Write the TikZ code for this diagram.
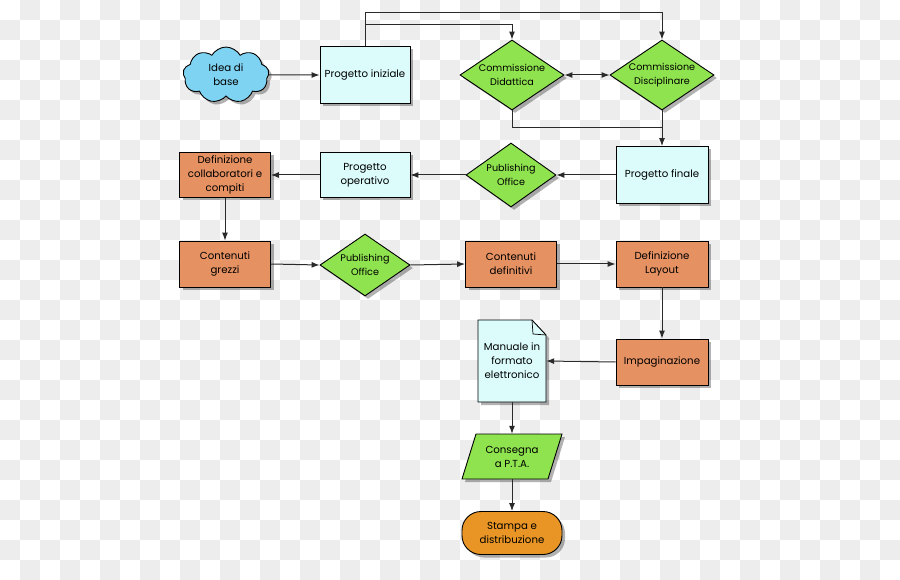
\documentclass[tikz,border=0pt]{standalone}
\usepackage{fontspec}
\setmainfont{Poppins}
\usetikzlibrary{shapes.geometric,shapes.symbols,shadows,arrows.meta}
\definecolor{cloudblue}{HTML}{7FD3F2}
\definecolor{lightcyan}{HTML}{DCFCFC}
\definecolor{limegreen}{HTML}{8EE34E}
\definecolor{salmon}{HTML}{E59162}
\definecolor{darkorange}{HTML}{E99526}
\definecolor{linegray}{HTML}{2A2A2A}
\definecolor{checkgray}{HTML}{EDEDED}
\begin{document}
\begin{tikzpicture}[x=1pt,y=-1pt,
  every node/.style={font=\fontsize{10.2}{14}\selectfont, align=center, inner sep=0pt},
  shad/.style={drop shadow={shadow xshift=3pt,shadow yshift=-3pt,opacity=0.3,fill=black}},
  outl/.style={draw=black, line width=0.9pt},
  boxc/.style={rectangle, outl, fill=lightcyan, shad},
  boxo/.style={rectangle, outl, fill=salmon, shad},
  dia/.style={diamond, outl, fill=limegreen, shad},
  txt/.style={font=\fontsize{9.6}{14}\selectfont},
  conn/.style={draw=linegray, line width=1pt, -{Latex[length=8pt,width=6pt]}},
  plain/.style={draw=linegray, line width=1pt}
]
\fill[white] (0,0) rectangle (900,580);
\foreach \i in {0,...,44}{
  \foreach \j in {0,...,28}{
    \pgfmathtruncatemacro{\parity}{mod(\i+\j,2)}
    \ifnum\parity=1 \fill[checkgray] (\i*20,\j*20) rectangle ++(20,20); \fi
  }
}
\useasboundingbox (0,0) rectangle (900,580);

% row 1
\node[cloud, cloud puffs=9, cloud puff arc=120, outl, fill=cloudblue, shad,
      minimum width=86pt, minimum height=50pt] (idea) at (226,75) {Idea di\\base};
\node[boxc, minimum width=90pt, minimum height=57pt] (pi) at (365,75) {Progetto iniziale};
\node[dia, minimum width=104pt, minimum height=70pt] (did) at (512,75) {};
\node[txt] (didT) at (did.center) {Commissione\\Didattica};
\node[dia, minimum width=104pt, minimum height=70pt] (disc) at (662,75) {};
\node[txt] (discT) at (disc.center) {Commissione\\Disciplinare};

% row 2
\node[boxc, minimum width=92pt, minimum height=57pt] (pf) at (662,175) {Progetto finale};
\node[dia, minimum width=90pt, minimum height=64pt] (po1) at (511,175) {};
\node[txt] (po1T) at (po1.center) {Publishing\\Office};
\node[boxc, minimum width=90pt, minimum height=45pt] (pop) at (365,175) {Progetto\\operativo};
\node[boxo, minimum width=91pt, minimum height=45pt] (defc) at (225,175) {Definizione\\collaboratori e\\compiti};

% row 3
\node[boxo, minimum width=91pt, minimum height=46pt] (cg) at (225,264) {Contenuti\\grezzi};
\node[dia, minimum width=90pt, minimum height=62pt] (po2) at (365,265) {};
\node[txt] (po2T) at (po2.center) {Publishing\\Office};
\node[boxo, minimum width=91pt, minimum height=46pt] (cdef) at (511,264) {Contenuti\\definitivi};
\node[boxo, minimum width=92pt, minimum height=46pt] (dl) at (662,264) {Definizione\\Layout};

% row 4
\node[boxo, minimum width=92pt, minimum height=46pt] (imp) at (662,362) {Impaginazione};
\filldraw[outl, fill=lightcyan, shad] (478,320) -- (532,320) -- (546,335) -- (546,402) -- (478,402) -- cycle;
\draw[black, line width=0.7pt] (532,320) .. controls (533,327) .. (533,334) -- (546,335);
\node[minimum width=68pt, minimum height=82pt] (man) at (512,361) {Manuale in\\formato\\elettronico};

% row 5
\filldraw[outl, fill=limegreen, shad] (476,434) -- (562,434) -- (548,479) -- (462,479) -- cycle;
\node[minimum width=86pt, minimum height=45pt] (cons) at (512,456.5) {Consegna\\a P.T.A.};

% row 6
\node[rectangle, rounded corners=19pt, outl, fill=darkorange, shad,
      minimum width=100pt, minimum height=43pt] (st) at (512,533) {Stampa e\\distribuzione};

% connectors
\coordinate (t1) at (365,13);
\coordinate (t2) at (365,25);
\coordinate (b1) at (662,128);
\draw[conn] (idea.east) -- (pi.west);
\draw[conn] (pi.north) -- (t1) -| (disc.north);
\draw[conn] (t2) -| (did.north);
\draw[draw=linegray, line width=1pt, {Latex[length=8pt,width=6pt]}-{Latex[length=8pt,width=6pt]}] (did.east) -- (disc.west);
\draw[plain] (did.south) |- (b1);
\draw[conn] (disc.south) -- (pf.north);
\draw[conn] (pf.west) -- (po1.east);
\draw[conn] (po1.west) -- (pop.east);
\draw[conn] (pop.west) -- (defc.east);
\draw[conn] (defc.south) -- (cg.north);
\draw[conn] (cg.east) -- (po2.west);
\draw[conn] (po2.east) -- (cdef.west);
\draw[conn] (cdef.east) -- (dl.west);
\draw[conn] (dl.south) -- (imp.north);
\draw[conn] (imp.west) -- (man.east);
\draw[conn] (man.south) -- (cons.north);
\draw[conn] (cons.south) -- (st.north);
\end{tikzpicture}
\end{document}
